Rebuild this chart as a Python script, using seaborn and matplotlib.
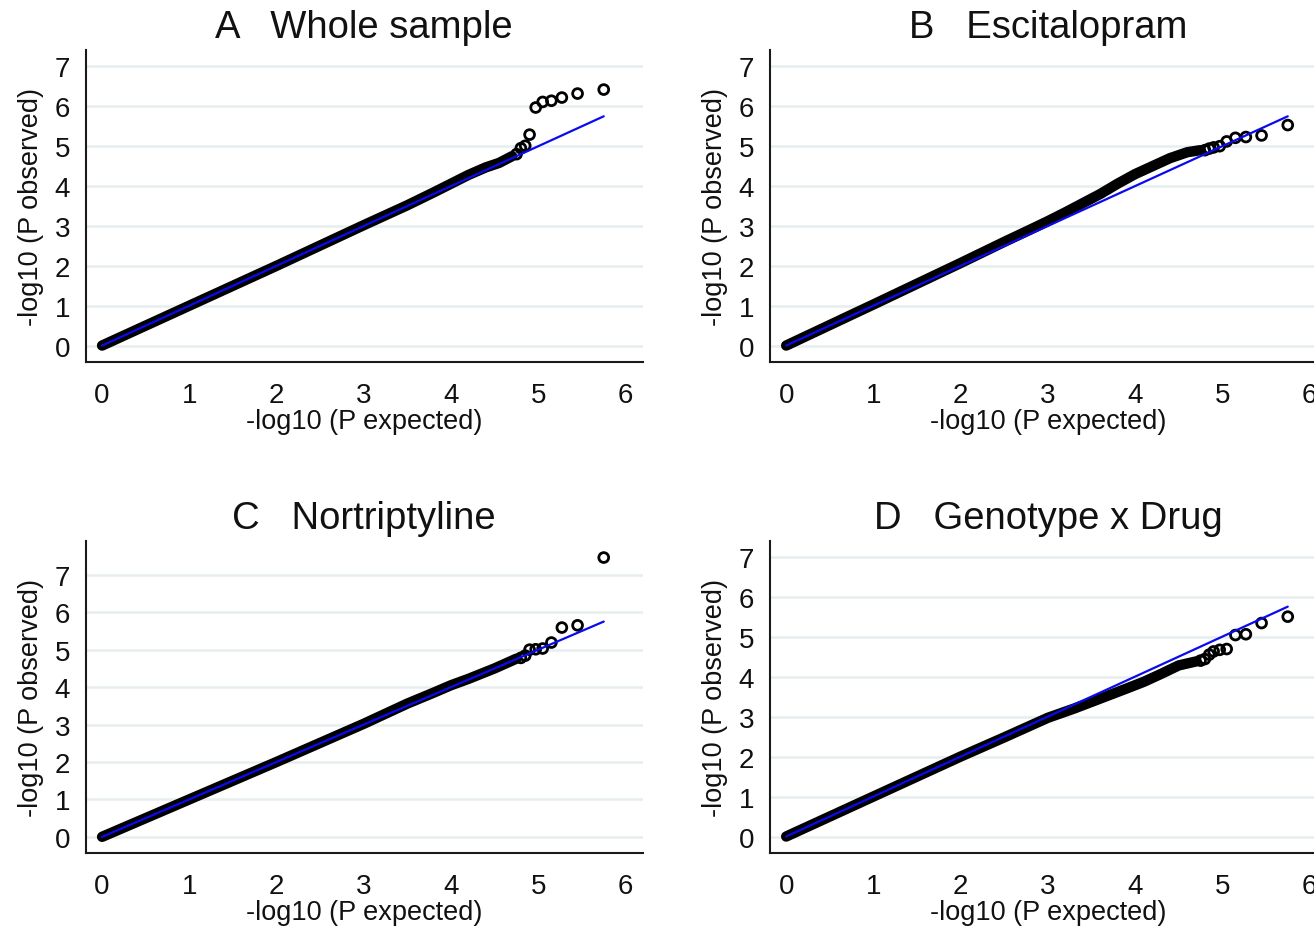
import numpy as np
import pandas as pd
import matplotlib
matplotlib.use("Agg")
import matplotlib.pyplot as plt
import seaborn as sns

# ---------------- data ----------------
panel_titles = ["A   Whole sample", "B   Escitalopram", "C   Nortriptyline", "D   Genotype x Drug"]
x_label = "-log10 (P expected)"
y_label = "-log10 (P observed)"
x_ticks = [0, 1, 2, 3, 4, 5, 6]
y_ticks = [0, 1, 2, 3, 4, 5, 6, 7]

# dense body of the QQ cloud (expected, observed)
a_band_exp = [0, 1, 2, 3, 3.5, 3.8, 4.0, 4.2, 4.4, 4.55, 4.7]
a_band_obs = [0, 1, 2, 3.02, 3.52, 3.84, 4.06, 4.28, 4.47, 4.58, 4.75]
b_band_exp = [0, 1, 2, 2.5, 2.8, 3.0, 3.2, 3.4, 3.6, 3.8, 4.0, 4.2, 4.4, 4.6, 4.75]
b_band_obs = [0, 1.03, 2.07, 2.6, 2.91, 3.12, 3.34, 3.57, 3.8, 4.06, 4.3, 4.5, 4.7, 4.85, 4.9]
c_band_exp = [0, 1, 2, 3, 3.5, 3.8, 4.0, 4.2, 4.5, 4.75]
c_band_obs = [0, 1, 2, 3.02, 3.56, 3.85, 4.05, 4.22, 4.5, 4.76]
d_band_exp = [0, 1, 2, 2.5, 3, 3.3, 3.6, 3.9, 4.1, 4.3, 4.5, 4.7]
d_band_obs = [0, 1, 2, 2.48, 2.97, 3.2, 3.45, 3.7, 3.87, 4.07, 4.28, 4.38]

# most significant individual SNPs (expected, observed)
a_tail_exp = [4.75, 4.80, 4.85, 4.90, 4.97, 5.05, 5.15, 5.27, 5.45, 5.75]
a_tail_obs = [4.80, 4.95, 5.01, 5.29, 5.97, 6.11, 6.14, 6.22, 6.32, 6.42]
b_tail_exp = [4.80, 4.85, 4.90, 4.97, 5.05, 5.15, 5.27, 5.45, 5.75]
b_tail_obs = [4.90, 4.94, 4.97, 5.00, 5.12, 5.21, 5.23, 5.27, 5.53]
c_tail_exp = [4.80, 4.85, 4.90, 4.97, 5.05, 5.15, 5.27, 5.45, 5.75]
c_tail_obs = [4.78, 4.84, 5.00, 5.01, 5.03, 5.19, 5.59, 5.65, 7.46]
d_tail_exp = [4.75, 4.80, 4.85, 4.90, 4.97, 5.05, 5.15, 5.27, 5.45, 5.75]
d_tail_obs = [4.40, 4.44, 4.55, 4.63, 4.67, 4.69, 5.04, 5.06, 5.34, 5.50]

# reference line (expected = observed)
ref_line = [0, 5.75]

bands = [(a_band_exp, a_band_obs), (b_band_exp, b_band_obs),
         (c_band_exp, c_band_obs), (d_band_exp, d_band_obs)]
tails = [(a_tail_exp, a_tail_obs), (b_tail_exp, b_tail_obs),
         (c_tail_exp, c_tail_obs), (d_tail_exp, d_tail_obs)]
y_limits = [(-0.42, 7.42), (-0.42, 7.42), (-0.44, 7.91), (-0.42, 7.40)]

# ---------------- style ----------------
sns.set_theme(style="white")
plt.rcParams["font.family"] = ["Liberation Sans", "DejaVu Sans"]

W, H = 1314, 929
fig = plt.figure(figsize=(W / 100, H / 100), dpi=100)
fig.patch.set_facecolor("white")

# axes boxes in pixels: (left, top, right, bottom)
boxes = [(85.5, 50.7, 643, 363.3), (769.6, 50.7, 1327, 363.3),
         (85.5, 541.7, 643, 854.3), (769.6, 541.7, 1327, 854.3)]

grid_col = "#e6eef0"
axis_col = "#1a1a1a"
text_col = "#111111"

for i in range(4):
    l, t, r, b = boxes[i]
    ax = fig.add_axes([l / W, 1 - b / H, (r - l) / W, (b - t) / H])
    ax.set_facecolor("white")
    for y in y_ticks:
        ax.axhline(y, color=grid_col, lw=1.8, zorder=0)

    bx, by = bands[i]
    band_df = pd.DataFrame({"exp": bx, "obs": by})
    sns.lineplot(data=band_df, x="exp", y="obs", ax=ax, color="black", lw=7.5,
                 sort=False, solid_capstyle="round", solid_joinstyle="round", zorder=2)

    tx, ty = tails[i]
    tail_df = pd.DataFrame({"exp": tx, "obs": ty})
    sns.scatterplot(data=tail_df, x="exp", y="obs", ax=ax, marker="o", s=50,
                    facecolor="none", edgecolor="black", linewidth=2.0, zorder=3)

    ref_df = pd.DataFrame({"exp": ref_line, "obs": ref_line})
    sns.lineplot(data=ref_df, x="exp", y="obs", ax=ax, color="#0a0af0", lw=1.6, zorder=4)

    ax.set_xlim(-0.19, 6.2)
    ax.set_ylim(*y_limits[i])
    ax.set_xticks(x_ticks)
    ax.set_yticks(y_ticks)
    ax.set_xticklabels([str(v) for v in x_ticks])
    ax.set_yticklabels([str(v) for v in y_ticks])
    for s in ["top", "right"]:
        ax.spines[s].set_visible(False)
    for s in ["left", "bottom"]:
        ax.spines[s].set_color(axis_col)
        ax.spines[s].set_linewidth(1.5)
    ax.tick_params(axis="both", which="major", direction="out", length=6, width=1.3,
                   color=axis_col, labelsize=20, labelcolor=text_col)
    ax.tick_params(axis="x", pad=8)
    ax.tick_params(axis="y", pad=5)
    ax.set_xlabel(x_label, fontsize=19.5, color=text_col, labelpad=0)
    ax.set_ylabel(y_label, fontsize=19.5, color=text_col, labelpad=8)
    ax.set_title(panel_titles[i], fontsize=27.5, pad=9, color=text_col)
    ax.grid(False)

fig.savefig("out.png", dpi=100, facecolor="white")
